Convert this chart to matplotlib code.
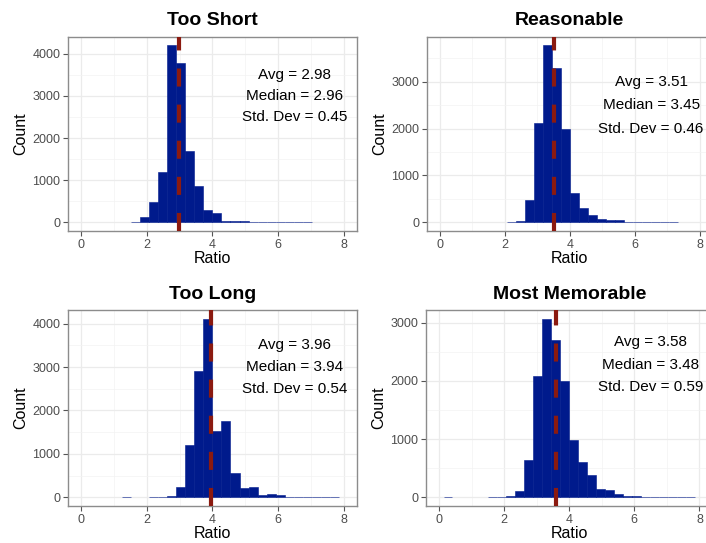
import numpy as np
import matplotlib
matplotlib.use("Agg")
import matplotlib.pyplot as plt

plt.rcParams['font.family'] = ['Liberation Sans', 'DejaVu Sans']
plt.rcParams['lines.scale_dashes'] = False

# 30 bins centred on 0, 8/29, ..., 8
titles = ["Too Short", "Reasonable", "Too Long", "Most Memorable"]
too_short = [0, 0, 0, 0, 0, 0, 12, 118, 470, 1185, 4204, 3780, 1702, 863, 290,
             212, 39, 16, 39, 8, 12, 5, 5, 4, 4, 4, 0, 0, 0, 0]
reasonable = [0, 0, 0, 0, 0, 0, 0, 0, 8, 30, 480, 2118, 3777, 3283, 1984,
              621, 310, 150, 72, 38, 36, 14, 12, 5, 5, 5, 5, 0, 0, 0]
too_long = [0, 0, 0, 0, 0, 18, 0, 0, 15, 15, 31, 228, 1207, 2900, 4114,
            1530, 1769, 561, 208, 235, 60, 80, 55, 15, 15, 15, 15, 15, 15, 0]
most_memorable = [0, 14, 0, 0, 0, 0, 10, 10, 17, 105, 644, 2092, 3069, 2695, 2006,
                  977, 615, 385, 150, 118, 60, 25, 22, 10, 10, 10, 10, 10, 10, 0]
counts = [too_short, reasonable, too_long, most_memorable]

avgs = [2.98, 3.51, 3.96, 3.58]
medians = [2.96, 3.45, 3.94, 3.48]
sds = [0.45, 0.46, 0.54, 0.59]
# y positions of the three annotation lines
text_y = [[3500, 3000, 2500], [3000, 2500, 2000], [3500, 3000, 2500], [2670, 2270, 1890]]

centers = np.linspace(0, 8, 30)
binw = 8 / 29

W, H = 706, 543
fig = plt.figure(figsize=(W / 100, H / 100), dpi=100)
# axes boxes in pixels: left, top, right, bottom
boxes = [(68, 36.5, 356.7, 231), (426.7, 36.5, 713, 231),
         (68, 309.7, 356.7, 506.3), (426, 309.7, 712.5, 506.3)]

for i in range(4):
    l, t, r, b = boxes[i]
    ax = fig.add_axes([l / W, (H - b) / H, (r - l) / W, (b - t) / H])
    c = np.array(counts[i])
    nz = c > 0
    ax.bar(centers[nz], c[nz], width=binw, color='#001a8c', edgecolor='#001a8c',
           linewidth=0.4, zorder=2)
    ax.axvline(avgs[i], color='#8b1a10', lw=3, dashes=(13, 13), zorder=3)

    ax.text(6.5, text_y[i][0], "Avg = %.2f" % avgs[i], ha='center', va='center', fontsize=11, zorder=4)
    ax.text(6.5, text_y[i][1], "Median = %.2f" % medians[i], ha='center', va='center', fontsize=11, zorder=4)
    ax.text(6.5, text_y[i][2], "Std. Dev = %.2f" % sds[i], ha='center', va='center', fontsize=11, zorder=4)

    ax.set_xlim(-0.4, 8.4)
    ax.set_ylim(-0.05 * c.max(), 1.05 * c.max())
    ax.set_xticks([0, 2, 4, 6, 8])
    ax.set_xticks([1, 3, 5, 7], minor=True)
    top = 4000 if c.max() > 4000 else 3000
    ax.set_yticks(np.arange(0, top + 1, 1000))
    ax.set_yticks(np.arange(500, c.max() * 1.05, 1000), minor=True)
    ax.grid(which='major', color='#ebebeb', lw=0.9, zorder=0)
    ax.grid(which='minor', color='#f3f3f3', lw=0.5, zorder=0)
    ax.tick_params(which='major', length=3.5, width=0.8, color='#555555',
                   labelcolor='#4d4d4d', labelsize=9, pad=2)
    ax.tick_params(which='minor', length=0)
    for s in ax.spines.values():
        s.set_color('#8c8c8c')
        s.set_linewidth(1.0)
    ax.set_axisbelow(True)
    ax.set_title(titles[i], fontsize=14, fontweight='bold', pad=8)
    ax.set_xlabel("Ratio", fontsize=11.5, labelpad=0)
    ax.set_ylabel("Count", fontsize=11.5, labelpad=3)

fig.savefig("out.png", dpi=100)
